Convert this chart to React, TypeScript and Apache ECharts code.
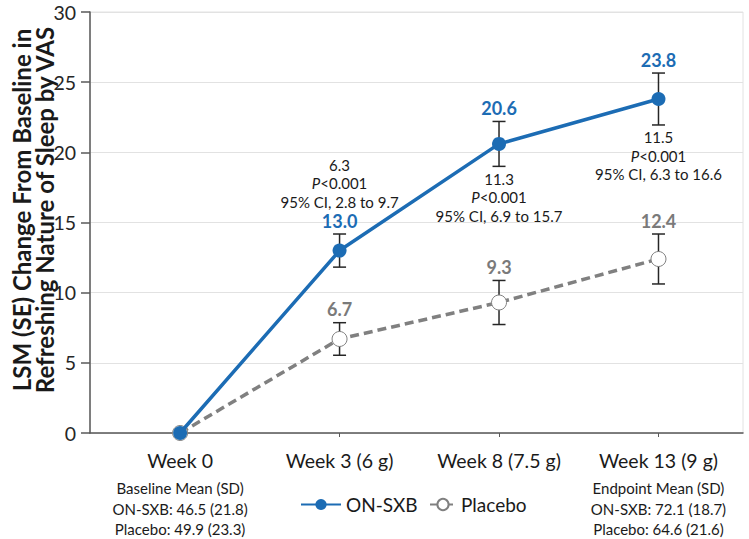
import React, { useEffect, useRef } from "react";
import * as echarts from "echarts";

const categories = ["Week 0", "Week 3 (6 g)", "Week 8 (7.5 g)", "Week 13 (9 g)"];
const onSxbMean = [0, 13.0, 20.6, 23.8];
const onSxbSE = [0, 1.18, 1.6, 1.85];
const placeboMean = [0, 6.7, 9.3, 12.4];
const placeboSE = [0, 1.16, 1.57, 1.78];
const diffValues = ["", "6.3", "11.3", "11.5"];
const pValues = ["", "<0.001", "<0.001", "<0.001"];
const ciValues = ["", "2.8 to 9.7", "6.9 to 15.7", "6.3 to 16.6"];
const diffPlacement = ["", "above", "below", "below"];
const baselineNotes = ["Baseline Mean (SD)", "ON-SXB: 46.5 (21.8)", "Placebo: 49.9 (23.3)"];
const endpointNotes = ["Endpoint Mean (SD)", "ON-SXB: 72.1 (18.7)", "Placebo: 64.6 (21.6)"];
const yMin = 0;
const yMax = 30;
const yInterval = 5;

const FONT = "Lato, 'Open Sans', sans-serif";
const BLUE = "#1c6cb4";
const GRAY = "#808080";
const GRAY_TXT = "#7a7a7a";
const INK = "#1a1a1a";
const AXIS = "#595959";
const LIGHT = "#e2e2e2";

export default function App() {
  const ref = useRef<HTMLDivElement>(null);

  useEffect(() => {
    document.body.style.margin = "0";
    if (!ref.current) return;
    const chart = echarts.init(ref.current, undefined, { renderer: "svg" });

    const idx = categories.map((_, i) => i);

    const errData = (means: number[], ses: number[]) =>
      means
        .map((m, i) => [i, m - ses[i], m + ses[i]])
        .filter((_, i) => ses[i] > 0);

    const errorBarSeries = (name: string, means: number[], ses: number[]) => ({
      type: "custom",
      name: name + "-err",
      z: 2,
      silent: true,
      data: errData(means, ses),
      renderItem: (params: any, api: any) => {
        const x = api.value(0);
        const top = api.coord([x, api.value(2)]);
        const bot = api.coord([x, api.value(1)]);
        const cap = 6.5;
        const style = { stroke: "#262626", lineWidth: 1.5 };
        return {
          type: "group",
          children: [
            { type: "line", shape: { x1: top[0], y1: top[1], x2: bot[0], y2: bot[1] }, style },
            { type: "line", shape: { x1: top[0] - cap, y1: top[1], x2: top[0] + cap, y2: top[1] }, style },
            { type: "line", shape: { x1: bot[0] - cap, y1: bot[1], x2: bot[0] + cap, y2: bot[1] }, style },
          ],
        };
      },
    });

    const valueLabelSeries = (name: string, means: number[], ses: number[], color: string) => ({
      type: "custom",
      name: name + "-lbl",
      z: 5,
      silent: true,
      data: means.map((m, i) => [i, m + ses[i], m]).filter((_, i) => ses[i] > 0),
      renderItem: (params: any, api: any) => {
        const p = api.coord([api.value(0), api.value(1)]);
        return {
          type: "text",
          x: p[0],
          y: p[1] - 13.5,
          style: {
            text: api.value(2).toFixed(1),
            fill: color,
            fontSize: 18,
            fontWeight: "bold",
            fontFamily: FONT,
            align: "center",
            verticalAlign: "middle",
          },
        };
      },
    });

    const annotationSeries = {
      type: "custom",
      name: "diff",
      z: 5,
      silent: true,
      data: onSxbMean.map((m, i) => [i, m + onSxbSE[i], m - onSxbSE[i]]).filter((_, i) => diffValues[i] !== ""),
      renderItem: (params: any, api: any) => {
        const i = api.value(0);
        const above = diffPlacement[i] === "above";
        const p = api.coord([i, above ? api.value(1) : api.value(2)]);
        return {
          type: "text",
          x: p[0],
          y: above ? p[1] - 23 : p[1] + 3,
          style: {
            text: `${diffValues[i]}\n{it|P}${pValues[i]}\n95% CI, ${ciValues[i]}`,
            rich: {
              it: { fontStyle: "italic", fontSize: 15, fontFamily: FONT, fill: INK, lineHeight: 18.5 },
            },
            fill: INK,
            fontSize: 15,
            fontFamily: FONT,
            lineHeight: 18.5,
            align: "center",
            verticalAlign: above ? "bottom" : "top",
          },
        };
      },
    };

    const noteRich = {
      w: { fontSize: 19.5, fontFamily: FONT, color: INK, lineHeight: 36, align: "center" },
      n: { fontSize: 15, fontFamily: FONT, color: INK, lineHeight: 20.5, align: "center" },
    };

    chart.setOption({
      animation: false,
      textStyle: { fontFamily: FONT },
      grid: {
        left: 90,
        right: 6,
        top: 12,
        bottom: 106,
        show: true,
        borderColor: LIGHT,
        borderWidth: 1,
      },
      legend: [
        {
          data: ["ON-SXB"],
          left: 295,
          top: 490,
          itemWidth: 40,
          itemHeight: 14,
          textStyle: { fontSize: 19, color: INK, fontFamily: FONT },
        },
        {
          data: ["Placebo"],
          left: 424,
          top: 490,
          itemWidth: 26,
          itemHeight: 14,
          textStyle: { fontSize: 19, color: INK, fontFamily: FONT },
        },
      ],
      xAxis: {
        type: "value",
        min: -0.565,
        max: 3.53,
        splitLine: { show: false },
        axisLine: { show: true, onZero: false, lineStyle: { color: AXIS, width: 1.5 } },
        axisTick: { show: true, customValues: idx, length: 4, lineStyle: { color: AXIS } },
        axisLabel: {
          customValues: idx,
          margin: 9,
          formatter: (v: number) => {
            const i = Math.round(v);
            let s = `{w|${categories[i]}}`;
            if (i === 0) s += baselineNotes.map((t) => `\n{n|${t}}`).join("");
            if (i === categories.length - 1) s += endpointNotes.map((t) => `\n{n|${t}}`).join("");
            return s;
          },
          rich: noteRich,
        },
      },
      yAxis: {
        type: "value",
        min: yMin,
        max: yMax,
        interval: yInterval,
        axisLine: { show: true, onZero: false, lineStyle: { color: AXIS, width: 1.5 } },
        axisTick: { show: true, length: 9, lineStyle: { color: AXIS, width: 1.5 } },
        axisLabel: { fontSize: 19.5, color: "#262626", margin: 14, fontFamily: FONT },
        splitLine: { show: true, lineStyle: { color: LIGHT, width: 1 } },
      },
      graphic: [
        {
          type: "text",
          x: 33,
          y: 210,
          rotation: Math.PI / 2,
          style: {
            text: "LSM (SE) Change From Baseline in\nRefreshing Nature of Sleep by VAS",
            fontSize: 24,
            fontWeight: "bold",
            fontFamily: FONT,
            fill: INK,
            align: "center",
            verticalAlign: "middle",
            lineHeight: 23,
          },
        },
      ],
      series: [
        errorBarSeries("ON-SXB", onSxbMean, onSxbSE),
        errorBarSeries("Placebo", placeboMean, placeboSE),
        {
          type: "line",
          name: "Placebo",
          z: 3,
          data: placeboMean.map((v, i) => [i, v]),
          symbol: "circle",
          symbolSize: 15,
          showSymbol: true,
          lineStyle: { color: GRAY, width: 3.5, type: [9, 5] },
          itemStyle: { color: "#ffffff", borderColor: GRAY, borderWidth: 1 },
        },
        {
          type: "line",
          name: "ON-SXB",
          z: 4,
          data: onSxbMean.map((v, i) => [i, v]),
          symbol: "circle",
          symbolSize: 14,
          showSymbol: true,
          lineStyle: { color: BLUE, width: 3.5 },
          itemStyle: { color: BLUE },
        },
        valueLabelSeries("ON-SXB", onSxbMean, onSxbSE, BLUE),
        valueLabelSeries("Placebo", placeboMean, placeboSE, GRAY_TXT),
        annotationSeries,
      ],
    });

    return () => chart.dispose();
  }, []);

  return <div ref={ref} style={{ width: 749, height: 539 }} />;
}
